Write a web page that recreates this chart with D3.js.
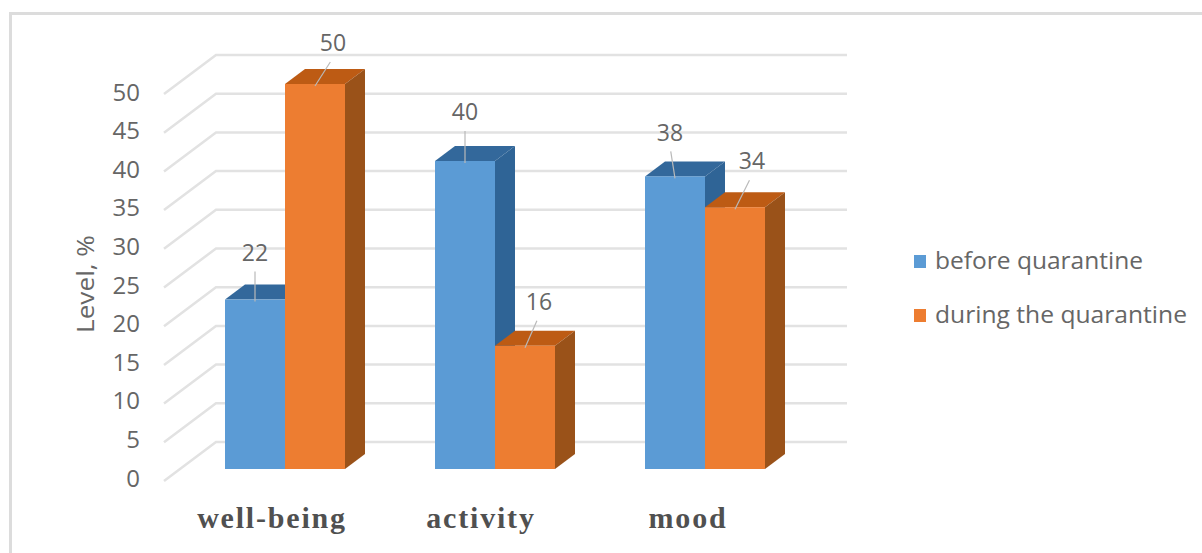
<!DOCTYPE html>
<html>
<head>
<meta charset="utf-8">
<script src="https://cdn.jsdelivr.net/npm/d3@7"></script>
<style>
  html, body { margin: 0; padding: 0; background: #fff; }
  svg { display: block; }
</style>
</head>
<body>
<svg id="chart" width="1202" height="553"></svg>
<script>
// Chart values
const categories = ["well-being", "activity", "mood"];
const seriesNames = ["before quarantine", "during the quarantine"];
const beforeQuarantine = [22, 40, 38];
const duringQuarantine = [50, 16, 34];
const yTicks = [0, 5, 10, 15, 20, 25, 30, 35, 40, 45, 50];

// Data label placement relative to the top centre of each bar: [dx, dy]
const beforeLabelShift = [[0, -47], [0, -49], [-5, -44]];
const duringLabelShift = [[18, -41], [14, -44], [17, -46]];
// Category labels sit slightly left of their bar pairs
const categoryShift = [-13, -14, -17];
// Rendered legend text widths
const legendWidths = [208, 252];

const frontColors = ["#5b9bd5", "#ed7d31"];
const sideColors = ["#2f6496", "#9a5219"];
const topColors = ["#33689b", "#bd5b14"];

const depth = { dx: 20, dy: -15 };
const textGrey = "#666666";

const svg = d3.select("#chart");

const yFront = d3.scaleLinear().domain([0, 50]).range([469, 84]);
const yBack = d3.scaleLinear().domain([0, 50]).range([442, 55]);
const yLabel = d3.scaleLinear().domain([0, 50]).range([478, 92]);

const x0 = d3.scaleBand().domain(categories).range([225, 765]).paddingInner(90 / 210);
const x1 = d3.scaleBand().domain(seriesNames).range([0, x0.bandwidth()]);

// Outer frame of the chart area
svg.append("rect")
  .attr("x", 10.5).attr("y", 13.5)
  .attr("width", 1220).attr("height", 600)
  .attr("fill", "#fff").attr("stroke", "#dcdcdc").attr("stroke-width", 3);

// Back wall gridlines and the slanted side wall lines
const grid = svg.append("g").attr("fill", "none").attr("stroke", "#e2e2e2").attr("stroke-width", 2.5);
grid.selectAll("path").data(yTicks).join("path")
  .attr("d", d => `M164,${yBack(d) + 39}L216,${yBack(d)}H847`);

// Value axis labels
svg.append("g")
  .attr("font-family", "'Open Sans', sans-serif")
  .attr("font-size", 24)
  .attr("fill", textGrey)
  .attr("text-anchor", "end")
  .selectAll("text").data(yTicks).join("text")
  .attr("x", 140)
  .attr("y", d => yLabel(d))
  .attr("dy", "0.36em")
  .text(d => d);

svg.append("text")
  .attr("transform", "translate(94,284) rotate(-90)")
  .attr("font-family", "'Open Sans', sans-serif")
  .attr("font-size", 23)
  .attr("fill", textGrey)
  .attr("text-anchor", "middle")
  .attr("textLength", 98)
  .attr("lengthAdjust", "spacingAndGlyphs")
  .text("Level, %");

// 3D bars: each made of a top, a side and a front face
const rows = categories.flatMap((c, i) => [
  { c, s: 0, name: seriesNames[0], v: beforeQuarantine[i], shift: beforeLabelShift[i] },
  { c, s: 1, name: seriesNames[1], v: duringQuarantine[i], shift: duringLabelShift[i] }
]);

const bars = svg.append("g").selectAll("g").data(rows).join("g")
  .attr("transform", d => `translate(${x0(d.c) + x1(d.name)},0)`);

const w = x1.bandwidth();
bars.append("path")
  .attr("fill", d => topColors[d.s])
  .attr("d", d => `M0,${yFront(d.v)}l${depth.dx},${depth.dy}h${w}l${-depth.dx},${-depth.dy}Z`);
bars.append("path")
  .attr("fill", d => sideColors[d.s])
  .attr("d", d => `M${w},${yFront(d.v)}l${depth.dx},${depth.dy}V${yFront(0) + depth.dy}l${-depth.dx},${-depth.dy}Z`);
bars.append("rect")
  .attr("fill", d => frontColors[d.s])
  .attr("x", 0).attr("width", w)
  .attr("y", d => yFront(d.v))
  .attr("height", d => yFront(0) - yFront(d.v));

// Data labels with thin leader lines down to the bar tops
const labels = svg.append("g").selectAll("g").data(rows).join("g")
  .attr("transform", d => `translate(${x0(d.c) + x1(d.name) + w / 2},${yFront(d.v)})`);
labels.append("line")
  .attr("x1", 0).attr("y1", 2)
  .attr("x2", d => d.shift[0] * 0.85)
  .attr("y2", d => d.shift[1] + 19)
  .attr("stroke", "#b9b9b9").attr("stroke-width", 1.2);
labels.append("text")
  .attr("x", d => d.shift[0])
  .attr("y", d => d.shift[1])
  .attr("dy", "0.36em")
  .attr("text-anchor", "middle")
  .attr("font-family", "'Open Sans', sans-serif")
  .attr("font-size", 23)
  .attr("fill", textGrey)
  .text(d => d.v);

// Category labels
svg.append("g")
  .attr("font-family", "'Liberation Serif', serif")
  .attr("font-weight", "bold")
  .attr("font-size", 30)
  .attr("fill", "#505050")
  .selectAll("text").data(categories).join("text")
  .attr("x", (d, i) => x0(d) + x0.bandwidth() / 2 + categoryShift[i])
  .attr("y", 528)
  .attr("text-anchor", "middle")
  .attr("letter-spacing", 1.8)
  .text(d => d);

// Legend
const legend = svg.append("g").selectAll("g").data(seriesNames).join("g")
  .attr("transform", (d, i) => `translate(914,${255 + i * 54})`);
legend.append("rect")
  .attr("width", 12).attr("height", 13)
  .attr("fill", (d, i) => frontColors[i]);
legend.append("text")
  .attr("x", 21).attr("y", 6)
  .attr("dy", "0.36em")
  .attr("font-family", "'Open Sans', sans-serif")
  .attr("font-size", 23)
  .attr("fill", textGrey)
  .attr("textLength", (d, i) => legendWidths[i])
  .attr("lengthAdjust", "spacingAndGlyphs")
  .text(d => d);
</script>
</body>
</html>
